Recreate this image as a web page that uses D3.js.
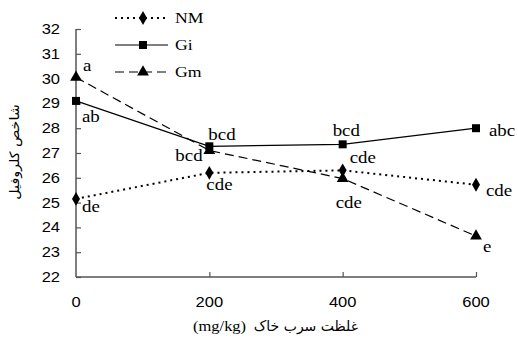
<!DOCTYPE html>
<html>
<head>
<meta charset="utf-8">
<script src="https://cdn.jsdelivr.net/npm/d3@7/dist/d3.min.js"></script>
<style>
  html, body { margin: 0; padding: 0; background: #fff; }
  svg { display: block; }
</style>
</head>
<body>
<svg id="chart" width="518" height="340"></svg>
<script>
// Lead concentration levels in soil (mg/kg)
const levels = [0, 200, 400, 600];
const yTicks = [22, 23, 24, 25, 26, 27, 28, 29, 30, 31, 32];

// Chlorophyll index per treatment
const nmValues = [25.15, 26.2, 26.3, 25.72];
const giValues = [29.1, 27.27, 27.35, 28.0];
const gmValues = [30.05, 27.1, 25.97, 23.65];

// Mean-comparison letters
const nmLetters = ["de", "cde", "cde", "cde"];
const giLetters = ["ab", "bcd", "bcd", "abc"];
const gmLetters = ["a", "bcd", "cde", "e"];

const seriesNames = ["NM", "Gi", "Gm"];

const svg = d3.select("#chart");
const x = d3.scaleLinear().domain([0, 600]).range([76, 476]);
const y = d3.scaleLinear().domain([22, 32]).range([277, 29]);

const sx = 1.18; // horizontal stretch of lettering

function stretchedText(g, px, py, str, opts) {
  const t = g.append("text")
    .attr("transform", `translate(${px},${py}) scale(${opts.scale || sx},1)`)
    .attr("font-family", opts.family)
    .attr("font-size", opts.size)
    .attr("text-anchor", opts.anchor || "start")
    .attr("dominant-baseline", "central")
    .attr("fill", "#000")
    .text(str);
  return t;
}

// Axes
const axisColor = "#555";
const yAxis = d3.axisRight(y).tickValues(yTicks).tickSize(5).tickFormat("");
const gy = svg.append("g").attr("transform", `translate(${x(0)},0)`).call(yAxis);
const xAxis = d3.axisTop(x).tickValues(levels).tickSize(5).tickFormat("");
const gx = svg.append("g").attr("transform", `translate(0,${y(22)})`).call(xAxis);
[gy, gx].forEach(g => {
  g.select(".domain").attr("stroke", axisColor).attr("stroke-width", 1.5);
  g.selectAll(".tick line").attr("stroke", axisColor).attr("stroke-width", 1.2);
});
gy.select(".domain").attr("d", `M0,${y(32)}H0V${y(22)}`);
gx.select(".domain").attr("d", `M${x(0)},0H${x(600)}`);
gx.selectAll(".tick").filter(d => d === 0).remove();

const tickG = svg.append("g");
yTicks.forEach(v => {
  stretchedText(tickG, 60, y(v), String(v), {family: "Liberation Sans, Arial, sans-serif", size: 14, anchor: "end"});
});
levels.forEach(v => {
  stretchedText(tickG, x(v), 302, String(v), {family: "Liberation Sans, Arial, sans-serif", size: 14, anchor: "middle"});
});

// Axis titles
svg.append("text")
  .attr("transform", `translate(14,152) rotate(-90) scale(1.1,1)`)
  .attr("text-anchor", "middle")
  .attr("dominant-baseline", "central")
  .attr("font-family", "DejaVu Sans, Noto Sans, sans-serif")
  .attr("font-size", 13)
  .text("شاخص کلروفیل");

svg.append("text")
  .attr("transform", `translate(358,326)`)
  .attr("text-anchor", "start")
  .attr("dominant-baseline", "central")
  .attr("direction", "rtl")
  .attr("font-family", "DejaVu Sans, Noto Sans, sans-serif")
  .attr("font-size", 14)
  .text("غلظت سرب خاک");

stretchedText(svg, 193, 326, "(mg/kg)", {family: "Liberation Serif, Times New Roman, serif", size: 15, scale: 1.1});

// Series
const series = [
  {name: "NM", values: nmValues, dash: "2,4", marker: d3.symbolDiamond, msize: 55},
  {name: "Gi", values: giValues, dash: null, marker: d3.symbolSquare, msize: 64},
  {name: "Gm", values: gmValues, dash: "9,5", marker: d3.symbolTriangle, msize: 60}
];

const line = d3.line().x((d, i) => x(levels[i])).y(d => y(d));

series.forEach(s => {
  svg.append("path")
    .datum(s.values)
    .attr("d", line)
    .attr("fill", "none")
    .attr("stroke", "#000")
    .attr("stroke-width", s.name === "NM" ? 2 : 1.2)
    .attr("stroke-dasharray", s.dash);
  svg.selectAll(null)
    .data(s.values)
    .enter().append("path")
    .attr("d", d3.symbol().type(s.marker).size(s.msize))
    .attr("transform", (d, i) => `translate(${x(levels[i])},${y(d)})`)
    .attr("fill", "#000");
});

// Letter labels (offsets relative to each point)
const labelG = svg.append("g");
const serif = "Liberation Serif, Times New Roman, serif";
const labelOffsets = {
  NM: [[6, 8], [-3, 12], [7, -13], [10, 6]],
  Gi: [[6, 16], [-1, -12], [-10, -14], [13, 2]],
  Gm: [[7, -12], [-34, 5], [-7, 24], [7, 10]]
};
const letters = {NM: nmLetters, Gi: giLetters, Gm: gmLetters};
series.forEach(s => {
  s.values.forEach((v, i) => {
    const [dx, dy] = labelOffsets[s.name][i];
    stretchedText(labelG, x(levels[i]) + dx, y(v) + dy, letters[s.name][i], {family: serif, size: 16});
  });
});

// Legend
const legend = svg.append("g");
const legendY = [18, 45, 72];
series.forEach((s, i) => {
  legend.append("line")
    .attr("x1", 115).attr("x2", 168)
    .attr("y1", legendY[i]).attr("y2", legendY[i])
    .attr("stroke", "#000")
    .attr("stroke-width", s.name === "NM" ? 2 : 1.2)
    .attr("stroke-dasharray", s.dash);
  legend.append("path")
    .attr("d", d3.symbol().type(s.marker).size(s.msize))
    .attr("transform", `translate(143,${legendY[i]})`)
    .attr("fill", "#000");
  stretchedText(legend, 175, legendY[i], s.name, {family: serif, size: 15});
});
</script>
</body>
</html>
